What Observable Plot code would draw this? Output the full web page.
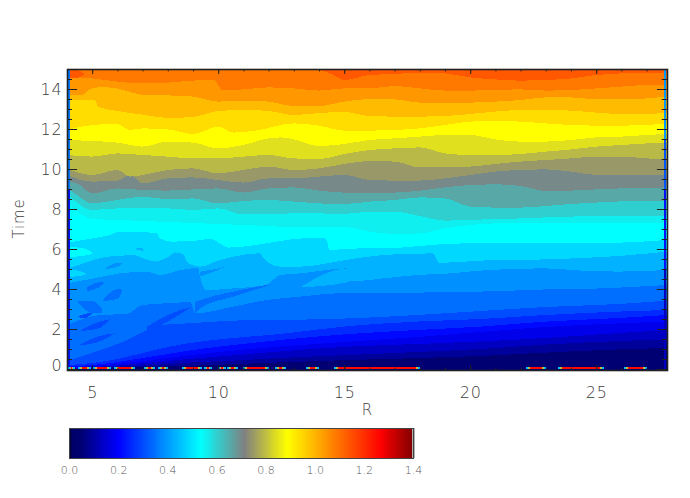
<!DOCTYPE html>
<html><head><meta charset="utf-8">
<script src="https://cdn.jsdelivr.net/npm/d3@7"></script>
<script src="https://cdn.jsdelivr.net/npm/@observablehq/plot@0.6"></script>
<style>html,body{margin:0;background:#fff}#c{position:relative;width:690px;height:498px}#c svg{position:absolute;left:0;background:transparent}.main text{letter-spacing:.8px}</style>
</head><body><div id="c"></div>
<script>
const rampStops=[0,0.012,0.044,0.2,0.533,0.712,0.887,1.266,1.4];
const rampColors=["#000030","#00006a","#000072","#0000ff","#00ffff","#808080","#ffff00","#ff0000","#800000"];
const xTicks=[5,10,15,20,25];
const yTicks=[2,4,6,8,10,12,14];
const barTicks=[0,0.2,0.4,0.6,0.8,1,1.2,1.4];
const b110=[[4,15.2],[11.4,15.2],[11.7,15],[12.3,14.93],[12.9,15],[13.2,15.1],[13.5,15],[14,14.95],[14.5,14.75],[15,14.45],[16,14.7],[17,14.75],[18,14.82],[19,14.78],[20,14.58],[21,14.48],[22,14.42],[23,14.45],[24,14.53],[25,14.7],[26,14.78],[27,14.82],[27.81,14.78]];
const b105=[[4,14.62],[5,14.53],[6,14.37],[7,14.28],[8,14.32],[9,14.42],[9.85,14.45],[10.15,13.95],[11,13.98],[12,14.08],[13,14.03],[14,13.92],[15,14.03],[16,14.03],[17,14.15],[18,14.03],[19,13.92],[20,13.92],[21,13.95],[22,13.98],[23,13.92],[24,13.95],[25,14.03],[26,14.12],[27,14.2],[27.81,14.2]];
const b100=[[4,13.7],[4.6,13.7],[4.9,14],[5.5,14.1],[6.4,13.9],[7,13.7],[8,13.68],[9,13.62],[10,13.37],[11,13.42],[12,13.37],[13,13.15],[14,13.15],[15,13.37],[16,13.5],[17,13.48],[18,13.32],[19,13.32],[20,13.32],[21,13.37],[22,13.45],[23,13.58],[24,13.58],[25,13.48],[26,13.48],[27,13.53],[27.81,13.62]];
const b095=[[4,13.45],[5.1,13.45],[5.25,13.1],[6,12.9],[7,12.72],[8,12.55],[9,12.6],[10,12.9],[11,12.95],[12,12.9],[13,12.7],[14,12.8],[15,12.85],[16,12.65],[17,12.62],[18,12.62],[19,12.65],[20,12.75],[21,12.87],[22,12.95],[23,12.95],[24,12.92],[25,12.82],[26,12.75],[27,12.75],[27.81,12.82]];
const b090=[[4,11.95],[5,12.2],[6,12.25],[6.5,11.95],[7,12.03],[8,11.98],[9,11.75],[10,12.12],[10.6,11.82],[11.5,11.92],[13,12.28],[14,12.17],[15,11.92],[16,11.92],[17,11.95],[18,12.03],[19,12.2],[20,12.37],[21,12.4],[22,12.37],[23,12.28],[24,12.2],[25,12.17],[26,12.17],[27,12.2],[27.81,12.28]];
const b085=[[4,11.45],[5,11.4],[6,11.32],[7,11.12],[8,11.37],[9,11.32],[10,11.03],[11,11.2],[12,11.53],[12.5,11.58],[13,11.48],[14,11.15],[15,11.25],[16,11.45],[17,11.53],[18,11.62],[19,11.7],[20,11.7],[21,11.48],[22,11.37],[23,11.37],[24,11.45],[25,11.58],[26,11.62],[27,11.7],[27.81,11.75]];
const b080=[[4,10.7],[5,10.62],[6,10.78],[7,10.7],[8,10.62],[9,10.53],[10,10.53],[11,10.62],[12,10.7],[13,10.53],[14,10.5],[15,10.75],[16,10.95],[17,11.03],[18,11.08],[19,10.78],[20,10.7],[21,10.7],[22,10.75],[23,10.87],[24,10.98],[25,11.12],[26,11.2],[27,11.28],[27.81,11.32]];
const b075=[[4,10.03],[5,9.7],[6,9.95],[6.5,9.62],[7,9.7],[8,9.95],[9,10.03],[10,9.78],[11,9.95],[12,10.12],[13,9.95],[14,10.03],[15,10.25],[16,10.4],[17,10.37],[18,10.08],[19,10.08],[20,10.12],[21,10.25],[22,10.37],[23,10.45],[24,10.53],[25,10.62],[26,10.62],[27,10.53],[27.81,10.48]];
const b070=[[4,9.7],[5,9.37],[6,9.42],[6.5,9.7],[7,9.28],[8,9.53],[9,9.58],[10,9.45],[11,9.32],[12,9.53],[13,9.53],[14,9.62],[15,9.7],[16,9.45],[17,9.42],[18,9.42],[19,9.53],[20,9.7],[21,9.87],[22,9.95],[23,9.98],[24,9.87],[25,9.7],[26,9.7],[27,9.7],[27.81,9.7]];
const b065=[[4,9.37],[4.4,9.28],[5,8.78],[6,9.03],[7,8.95],[8,8.92],[9,8.98],[10,9.03],[11,8.82],[12,9.03],[13,9.08],[14,8.92],[15,8.82],[16,8.82],[17,8.82],[18,8.92],[19,9.08],[20,9.2],[21,9.23],[22,9.15],[23,8.9],[24,8.92],[25,8.98],[26,9.03],[27,9.05],[27.81,9.08]];
const b060=[[4,9.03],[4.3,8.78],[5,8.28],[6,8.45],[7,8.62],[8,8.48],[9,8.53],[10,8.28],[11,8.4],[12,8.45],[13,8.37],[14,8.28],[15,8.25],[16,8.37],[17,8.45],[18,8.58],[19,8.53],[20,8.12],[21,8.07],[22,8.07],[23,8.15],[24,8.25],[25,8.32],[26,8.38],[27,8.38],[27.81,8.38]];
const b055=[[4,8.78],[4.3,8.42],[5,7.95],[6,8.03],[7,8.03],[8,8.03],[9,7.95],[10,8.03],[11,7.73],[12,7.75],[13,7.78],[14,7.78],[15,7.75],[16,7.87],[17,7.87],[18,7.65],[19,7.42],[20,7.45],[21,7.5],[22,7.53],[23,7.58],[24,7.62],[25,7.65],[26,7.65],[27,7.65],[27.81,7.65]];
const b050=[[4,8.3],[4.5,7.8],[5,7.5],[6,7.45],[7,7.4],[8,7.35],[9,7.3],[10,7.25],[11,7.2],[12,7.15],[13,7.08],[14,7.08],[15,7.1],[16,6.87],[17,6.75],[18,6.78],[19,7.03],[20,7.2],[21,7.28],[24,7.28],[27.81,7.3]];
const b045=[[4,6.3],[4.85,6.5],[5.7,6.7],[5.97,6.83],[6.63,6.87],[7.56,6.78],[7.7,6.53],[8.1,6.37],[9,6.4],[9.28,6.45],[9.68,6.5],[10.07,6.28],[10.4,6.07],[11.66,6.23],[13,6.5],[14.2,6.57],[14.35,6.28],[14.4,5.95],[15.6,6.03],[16.55,6.03],[18,6.15],[19,6.25],[20,6.28],[24,6.28],[26,6.32],[27.81,6.45]];
const b040=[[4,5],[4.85,5.37],[5.5,5.6],[6,5.65],[6.65,5.7],[7,5.55],[7.5,5.37],[8,5.6],[8.3,5.83],[8.6,5.75],[8.8,5.3],[9.28,5.12],[10.07,5.45],[11.66,5.78],[11.8,5.53],[12.45,5.12],[13.25,5.12],[15.2,5.48],[16.55,5.7],[18.5,5.78],[18.66,5.53],[18.75,5.3],[20.4,5.42],[23,5.48],[25.9,5.65],[27.81,5.87]];
const b035=[[4,4.28],[5.05,4.53],[6.1,4.78],[7.16,4.87],[7.7,4.7],[8.5,4.95],[9.2,5.05],[9.28,4.62],[9.5,3.95],[10.6,4.03],[11.9,4.2],[12.45,4.7],[13.25,4.78],[15.1,5.03],[15.15,4.37],[16.55,4.53],[17.9,4.7],[19.2,4.78],[20.4,4.92],[21.7,5],[23,5.03],[24.4,4.92],[25.9,4.87],[27.81,4.95]];
const b030=[[4,2.2],[5.31,2.7],[6.37,2.75],[7,3.2],[8.2,3.3],[8.9,3.35],[9.08,2.78],[10.6,3.12],[11.93,3.45],[13.25,3.62],[15.2,3.82],[16.55,3.82],[19.2,3.83],[20.4,3.87],[21.7,3.92],[23,3.98],[24.4,4],[25.9,4.07],[27.81,4.2]];
const b025=[[4,.4],[5.05,.83],[6.25,1.37],[7.16,1.95],[7.7,2.2],[8.35,2.25],[9.67,2.35],[10.6,2.42],[12.45,2.45],[15.2,2.53],[17.9,2.7],[20.4,2.9],[23,3.1],[25.9,3.25],[27.81,3.42]];
const b020=[[4,.2],[5,.3],[6,.5],[7,.8],[8,1.1],[9.28,1.37],[10.6,1.55],[12.45,1.75],[15.2,2.15],[17.9,2.37],[20.4,2.5],[23,2.7],[25.9,2.87],[27.81,2.95]];
const b015=[[4,.12],[5,.2],[6,.35],[7,.55],[8,.75],[9.28,1],[10.6,1.2],[12.45,1.45],[15.2,1.75],[17.9,1.95],[20.4,2.12],[23,2.37],[25.9,2.55],[27.81,2.7]];
const b010=[[4,.08],[5,.14],[6,.25],[7,.4],[8,.55],[9.28,.75],[10.6,.92],[12.45,1.12],[15.2,1.37],[17.9,1.6],[20.4,1.85],[23,2.1],[25.9,2.28],[27.81,2.37]];
const b005=[[4,.05],[5,.1],[6,.17],[7,.28],[8,.4],[9.28,.55],[10.6,.68],[12.45,.88],[15.2,1.12],[17.9,1.25],[20.4,1.38],[23,1.55],[25.9,1.8],[27.81,1.95]];
const b002=[[4,.03],[5,.06],[6,.1],[7,.17],[8,.25],[9.28,.35],[10.6,.42],[12.45,.55],[15.2,.7],[17.9,.85],[20.4,1],[23,1.22],[25.9,1.4],[27.81,1.48]];
const b001=[[4,0],[5,.03],[6,.05],[7,.09],[8,.13],[9.28,.18],[10.6,.24],[12.45,.33],[15.2,.45],[20.4,.65],[23,.82],[25.9,.98],[27.81,1.05]];
// bands, lowest first: [value, its lower boundary]
const bands=[[.044,[[4,-.1],[27.81,-.1]]],[.089,b001],[.133,b002],[.178,b005],[.21,b010],[.255,b015],[.3,b020],[.343,b025],[.388,b030],[.432,b035],[.482,b040],[.533,b045],[.555,b050],[.6,b055],[.656,b060],[.7,b065],[.745,b070],[.79,b075],[.844,b080],[.887,b085],[.937,b090],[.988,b095],[1.04,b100],[1.088,b105],[1.135,b110]];
// isolated tongues and islands: [value, [R, lower time, upper time] ...]
const islands=[
 [.3,[[4.45,1.18,1.18],[5.2,1.33,1.62],[5.9,1.78,1.78]]],
 [.3,[[4.5,1.9,1.9],[5.2,2,2.33],[5.7,2.48,2.48]]],
 [.3,[[7.16,1.9,2.1],[8,2.37,2.7],[8.95,3.12,3.12]]],
 [.3,[[4.4,2.6,2.6],[4.7,2.55,2.75],[5,2.8,2.8]]],
 [.343,[[9.08,2.78,3.35],[9.28,3.03,3.45],[10.6,3.62,3.87],[12.06,4.2,4.23]]],
 [.343,[[4.4,3.4,3.4],[5,2.8,3.4],[5.4,2.8,3]]],
 [.343,[[5.4,3.4,3.4],[6,3.5,4],[6.2,3.95,3.95]]],
 [.343,[[4.8,3.9,4.1],[5.3,4.1,4.35],[5.5,4.35,4.35]]],
 [.388,[[5.7,3.3,3.3],[6.2,3.3,3.5],[6.4,3.5,3.5]]],
 [.388,[[5.5,5,5],[6,5.1,5.3],[6.2,5.3,5.3]]],
 [.388,[[9.28,4.62,4.87],[9.9,4.9,5],[10.3,5.12,5.12]]],
 [.432,[[6.6,6,6],[7,5.9,6.05],[7.05,5.87,5.87]]],
 [.432,[[13.25,4.08,4.08],[15.1,4.33,5.03],[15.15,4.37,5.03]]],
 [.533,[[4.05,5.6,6.1],[4.6,5.65,6.05],[5,5.75,5.85]]],
 [.482,[[4.05,4.6,5],[4.5,4.65,4.9],[4.8,4.75,4.75]]],
 [1.135,[[4.1,14.55,15],[4.4,14.55,14.95],[4.7,14.75,14.75]]]
];
const leftStrip=[[15,9,.355],[9,0,.222]];
const rightStrip=[[15,11.5,.4],[11.5,9,.311],[9,5,.222],[5,-.05,.133]];
const noiseRuns=[[4.05,4.3],[4.45,4.95],[5.05,5.75],[5.85,6.7],[7.05,7.5],[7.6,8],[8.55,9.35],[9.45,9.75],[10,10.3],[10.35,10.8],[11,12],[12.25,12.7],[13.5,14],[14.6,18],[22.2,23],[23.5,25.3],[26.1,27]];

const rows=[];
bands.forEach(([v,pts])=>pts.forEach(([R,t])=>rows.push({v,R,t})));
const isl=[];
islands.forEach(([v,pts],i)=>pts.forEach(([R,lo,hi])=>isl.push({v,i,R,lo,hi})));
const cells=[];
noiseRuns.forEach(([a,b])=>{
  const w=Math.min(.08,(b-a)/5);
  cells.push([a,a+w,.45],[a+w,a+2*w,.8],[a+2*w,b-2*w,1.25],[b-2*w,b-w,.8],[b-w,b,.45]);
});
const colorOpt={type:"linear",domain:rampStops,range:rampColors,interpolate:"rgb"};
const ink="#222",lab="#3c3c3c",ff="'DejaVu Sans',sans-serif";
const minorX=d3.range(4,28),minorY=d3.range(0,15.01,.5);
const main=Plot.plot({
  className:"main",
  width:690,height:420,marginLeft:67,marginRight:23,marginTop:69,marginBottom:50,
  style:{background:"transparent",overflow:"visible"},
  x:{domain:[4,27.81],axis:null},y:{domain:[-.05,15],axis:null},color:colorOpt,
  marks:[
    Plot.areaY(rows,{x:"R",y1:"t",y2:15.3,fill:"v",z:"v",curve:"monotone-x",clip:"frame",shapeRendering:"crispEdges"}),
    Plot.areaY(isl,{x:"R",y1:"lo",y2:"hi",fill:"v",z:"i",curve:"monotone-x",clip:"frame",shapeRendering:"crispEdges"}),
    Plot.rect(leftStrip,{x1:4.03,x2:4.11,y1:d=>d[0],y2:d=>d[1],fill:d=>d[2],shapeRendering:"crispEdges"}),
    Plot.rect(rightStrip,{x1:27.7,x2:27.79,y1:d=>d[0],y2:d=>d[1],fill:d=>d[2],shapeRendering:"crispEdges"}),
    Plot.rect(cells,{x1:d=>d[0],x2:d=>d[1],y1:0,y2:.1,fill:d=>d[2],shapeRendering:"crispEdges"}),
    Plot.ruleX(minorX,{y1:-.05,y2:.07,stroke:ink}),
    Plot.ruleX(minorX,{y1:14.88,y2:15,stroke:ink}),
    Plot.ruleX(xTicks,{y1:-.05,y2:.2,stroke:ink}),
    Plot.ruleX(xTicks,{y1:14.75,y2:15,stroke:ink}),
    Plot.ruleY(minorY,{x1:4,x2:4.2,stroke:ink}),
    Plot.ruleY(minorY,{x1:27.6,x2:27.81,stroke:ink}),
    Plot.ruleY(yTicks.concat(0),{x1:4,x2:4.4,stroke:ink}),
    Plot.ruleY(yTicks.concat(0),{x1:27.41,x2:27.81,stroke:ink}),
    Plot.frame({stroke:"#222",strokeWidth:1.6}),
    Plot.text(xTicks,{x:d=>d,y:-.05,dy:22,text:d=>String(d),fontSize:16,fontWeight:200,fill:lab,fontFamily:ff}),
    Plot.text(yTicks,{x:4,y:d=>d,dx:-5,textAnchor:"end",text:d=>String(d),fontSize:16,fontWeight:200,fill:lab,fontFamily:ff}),
    Plot.text([0],{x:4,y:0,dx:-5,dy:-4,textAnchor:"end",text:d=>String(d),fontSize:16,fontWeight:200,fill:lab,fontFamily:ff}),
    Plot.text(["R"],{x:15.9,y:-.05,dy:40,text:d=>d,fontSize:15,fontWeight:200,fill:lab,fontFamily:ff}),
    Plot.text(["Time"],{x:4,y:7.55,dx:-48,rotate:-90,text:d=>d,fontSize:15,fontWeight:200,fill:lab,fontFamily:ff})
  ]
});
main.style.top="0px";
const ramp=d3.range(0,1.4,.004);
const bar=Plot.plot({
  width:690,height:78,marginLeft:69,marginRight:277,marginTop:8,marginBottom:40,
  style:{background:"transparent",overflow:"visible"},
  x:{domain:[0,1.4],axis:null},y:{domain:[0,1],axis:null},color:colorOpt,
  marks:[
    Plot.rect(ramp,{x1:d=>d,x2:d=>d+.0045,y1:0,y2:1,fill:d=>d,shapeRendering:"crispEdges"}),
    Plot.rect([1.4],{x1:1.395,x2:1.41,y1:0,y2:1,fill:"#b0b0b0",shapeRendering:"crispEdges"}),
    Plot.frame({stroke:"#444",strokeWidth:1}),
    Plot.text(barTicks,{x:d=>d,y:0,dy:12,text:d=>d.toFixed(1),fontSize:11,fontWeight:200,fill:"#555",fontFamily:ff})
  ]
});
bar.style.top="420px";
document.getElementById("c").append(main,bar);
</script></body></html>
